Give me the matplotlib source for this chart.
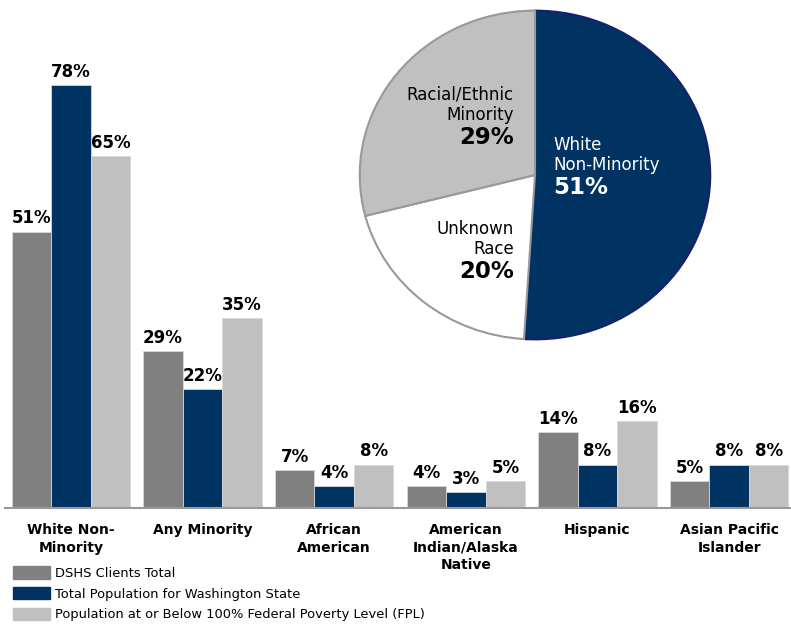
import matplotlib.pyplot as plt
import matplotlib.patches as mpatches
import numpy as np

# Percentages by race/ethnicity
categories = ["White Non-\nMinority", "Any Minority", "African\nAmerican",
              "American\nIndian/Alaska\nNative", "Hispanic", "Asian Pacific\nIslander"]
dshs_clients = [51, 29, 7, 4, 14, 5]
wa_population = [78, 22, 4, 3, 8, 8]
below_fpl = [65, 35, 8, 5, 16, 8]
series_names = ["DSHS Clients Total",
                "Total Population for Washington State",
                "Population at or Below 100% Federal Poverty Level (FPL)"]

# Pie: DSHS clients by reported race
pie_labels = ["White\nNon-Minority", "Unknown\nRace", "Racial/Ethnic\nMinority"]
pie_values = [51, 20, 29]

dark_gray = "#808080"
navy = "#003262"
light_gray = "#c0c0c0"
colors = [dark_gray, navy, light_gray]

W, H = 791, 624
fig = plt.figure(figsize=(W / 100, H / 100), dpi=100)

# bar chart axes (placed in pixel units)
ax = fig.add_axes([5 / W, (H - 508) / H, 790 / W, 433.6 / H])
x = np.arange(len(categories))
bw = 0.3
for i, (vals, c) in enumerate(zip([dshs_clients, wa_population, below_fpl], colors)):
    bars = ax.bar(x + (i - 1) * bw, vals, bw, color=c, edgecolor="#d9d9d9",
                  linewidth=0.6, label=series_names[i])
    for b, v in zip(bars, vals):
        ax.annotate(f"{v}%", (b.get_x() + b.get_width() / 2, v),
                    xytext=(0, 3), textcoords="offset points",
                    ha="center", va="bottom", fontsize=12, fontweight="bold")

ax.set_xlim(-0.5, 5.5)
ax.set_ylim(0, 80)
for s in ["top", "right", "left"]:
    ax.spines[s].set_visible(False)
ax.spines["bottom"].set_color("#999999")
ax.spines["bottom"].set_linewidth(1.5)
ax.set_yticks([])
ax.set_xticks(x)
ax.set_xticklabels(categories, fontsize=10, fontweight="bold", linespacing=1.3)
ax.tick_params(axis="x", length=0, pad=11)

# legend
handles = [mpatches.Patch(color=c) for c in colors]
fig.legend(handles, series_names, loc="upper left",
           bbox_to_anchor=(13 / W, 1 - 566 / H), frameon=False, fontsize=9.4,
           handlelength=2.8, handleheight=1.1, handletextpad=0.45,
           labelspacing=0.55, borderaxespad=0, borderpad=0)

# pie chart
pax = fig.add_axes([358 / W, (H - 341) / H, 354 / W, 332 / H])
wedges, _ = pax.pie(pie_values, colors=[navy, "white", light_gray],
                    startangle=90, counterclock=False,
                    wedgeprops=dict(edgecolor="#999999", linewidth=1.5))
wedges[0].set_edgecolor("#1a1f6e")
pax.set_aspect("auto")
pax.set_xlim(-1.01, 1.01)
pax.set_ylim(-1.01, 1.01)

def fig_xy(px, py):
    return px / W, 1 - py / H

fig.text(*fig_xy(553, 155), pie_labels[0], color="white", fontsize=12,
         ha="left", va="center", linespacing=1.15)
fig.text(*fig_xy(553, 187), f"{pie_values[0]}%", color="white", fontsize=16.5,
         fontweight="bold", ha="left", va="center")
fig.text(*fig_xy(514, 239), pie_labels[1], fontsize=12, ha="right",
         va="center", linespacing=1.15)
fig.text(*fig_xy(514, 271), f"{pie_values[1]}%", fontsize=16.5,
         fontweight="bold", ha="right", va="center")
fig.text(*fig_xy(514, 105), pie_labels[2], fontsize=12, ha="right",
         va="center", linespacing=1.15)
fig.text(*fig_xy(514, 137), f"{pie_values[2]}%", fontsize=16.5,
         fontweight="bold", ha="right", va="center")

fig.savefig("out.png", dpi=100)
